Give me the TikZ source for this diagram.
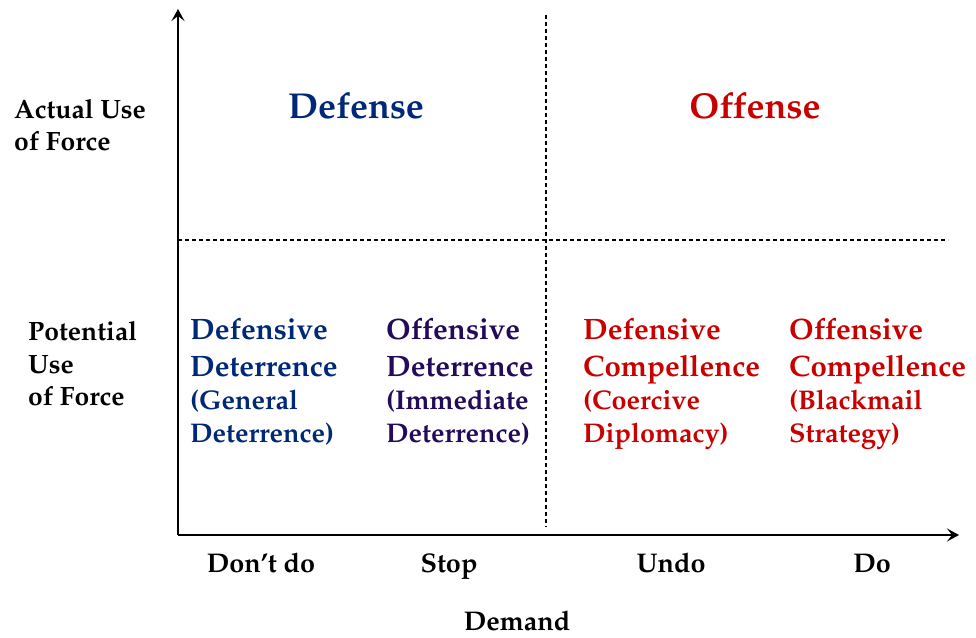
\documentclass[tikz,border=0pt]{standalone}
\usepackage[T1]{fontenc}
\usepackage{mathpazo}
\usetikzlibrary{arrows.meta}
\definecolor{defblue}{RGB}{0,40,120}
\definecolor{offpurple}{RGB}{36,10,90}
\definecolor{offred}{RGB}{200,0,0}
\tikzset{
  axis/.style={line width=2.8pt,-{Stealth[length=12pt,width=13pt,inset=5pt]}},
  divider/.style={line width=1.3pt,dash pattern=on 4pt off 3pt},
  lbl/.style={inner sep=0pt,anchor=base west,align=left,font=\bfseries\fontsize{26.5}{32.5}\selectfont},
  big/.style={inner sep=0pt,anchor=base west,align=left,font=\bfseries\fontsize{29.5}{37}\selectfont},
  small/.style={inner sep=0pt,anchor=base west,align=left,font=\bfseries\fontsize{27}{33}\selectfont},
  title/.style={inner sep=0pt,anchor=base,font=\bfseries\fontsize{36}{40}\selectfont},
  tick/.style={inner sep=0pt,anchor=base,font=\bfseries\fontsize{27}{30}\selectfont}
}
\begin{document}
\begin{tikzpicture}[x=1pt,y=1pt]
\useasboundingbox (0,0) rectangle (976,637);
% axes
\coordinate (O) at (178,102);
\coordinate (ytop) at (178,628);
\coordinate (xend) at (959,102);
\draw[axis] (O) -- (ytop);
\draw[axis] (O) -- (xend);
% dividers
\coordinate (vtop) at (546,622);
\coordinate (vbot) at (546,110);
\coordinate (hl) at (178,397);
\coordinate (hr) at (948,397);
\draw[divider] (vtop) -- (vbot);
\draw[divider] (hl) -- (hr);
% left labels (anchor = baseline of last line)
\node[lbl] (actual) at (14,486) {Actual Use\\of Force};
\node[lbl] (potential) at (28,231) {Potential\\Use\\of Force};
% titles
\node[title,text=defblue] (defense) at (356,518) {Defense};
\node[title,text=offred] (offense) at (755,518) {Offense};
% quadrant texts
\node[big,text=defblue] (q1a) at (190,260) {Defensive\\Deterrence};
\node[small,text=defblue] (q1b) at (190,194) {(General\\Deterrence)};
\node[big,text=offpurple] (q2a) at (386,260) {Offensive\\Deterrence};
\node[small,text=offpurple] (q2b) at (386,194) {(Immediate\\Deterrence)};
\node[big,text=offred] (q3a) at (583,260) {Defensive\\Compellence};
\node[small,text=offred] (q3b) at (583,194) {(Coercive\\Diplomacy)};
\node[big,text=offred] (q4a) at (789,260) {Offensive\\Compellence};
\node[small,text=offred] (q4b) at (789,194) {(Blackmail\\Strategy)};
% ticks
\node[tick] (dont) at (261,65) {Don't do};
\node[tick] (stop) at (449,65) {Stop};
\node[tick] (undo) at (671,65) {Undo};
\node[tick] (do) at (872,65) {Do};
\node[tick] (demand) at (517,7) {Demand};
\end{tikzpicture}
\end{document}
